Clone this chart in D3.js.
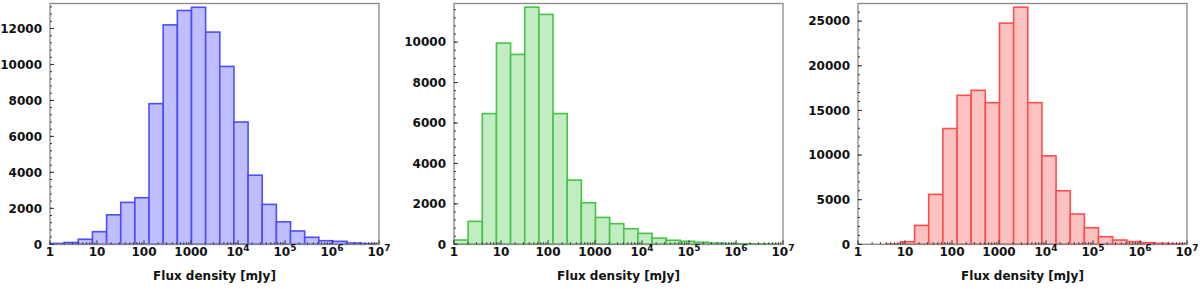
<!DOCTYPE html>
<html>
<head>
<meta charset="utf-8">
<script src="https://cdn.jsdelivr.net/npm/d3@7"></script>
<style>
  body { margin: 0; background: #fff; }
  text { font-family: "DejaVu Sans", sans-serif; font-weight: bold; fill: #111; }
</style>
</head>
<body>
<div id="chart"></div>
<script>
// histogram bins are powers of two: [2^k, 2^(k+1)]
var binExp = d3.range(0, 23);

var blueCounts = [50, 100, 280, 700, 1640, 2330, 2590, 7820, 12200, 13000, 13180, 11800,
  9890, 6800, 3840, 2220, 1250, 740, 390, 200, 165, 70, 40];
var greenCounts = [210, 1135, 6465, 9950, 9390, 11730, 11370, 6465, 3175, 2055, 1330, 1020,
  770, 540, 310, 200, 150, 100, 60, 40, 30, 25, 15];
var redCounts = [0, 0, 30, 290, 2120, 5590, 12970, 16690, 17250, 15870, 24780, 26570,
  15870, 9910, 6000, 3390, 1860, 850, 480, 300, 180, 110, 70];

var xTicks = [1, 10, 100, 1000, 1e4, 1e5, 1e6, 1e7];
var xTickLabels = ["1", "10", "100", "1000", "10|4", "10|5", "10|6", "10|7"];

var panels = [
  { counts: blueCounts, left: 50, yMax: 13390, yStep: 2000, yMinor: 400, fill: "#bfbfff", stroke: "#4d4dff" },
  { counts: greenCounts, left: 454, yMax: 11910, yStep: 2000, yMinor: 400, fill: "#c2ecc2", stroke: "#45c445" },
  { counts: redCounts, left: 858, yMax: 26980, yStep: 5000, yMinor: 1000, fill: "#fcc2c2", stroke: "#ff4d4d" }
];

var svgWidth = 1200;
var svgHeight = 289;
var plotW = 329;
var plotTop = 3.5;
var plotBottom = 244.3;

var svg = d3.select("#chart")
  .append("svg")
  .attr("width", svgWidth)
  .attr("height", svgHeight);

panels.forEach(function(p) {
  var g = svg.append("g");

  var x = d3.scaleLog()
    .domain([1, 1e7])
    .range([p.left, p.left + plotW]);

  var y = d3.scaleLinear()
    .domain([0, p.yMax])
    .range([plotBottom, plotTop]);

  // bars
  g.selectAll("rect.bar")
    .data(binExp.map(function(k, i) { return { k: k, v: p.counts[i] }; }).filter(d => d.v > 0))
    .enter()
    .append("rect")
    .attr("class", "bar")
    .attr("x", d => x(Math.pow(2, d.k)))
    .attr("width", d => x(Math.pow(2, d.k + 1)) - x(Math.pow(2, d.k)))
    .attr("y", d => y(d.v))
    .attr("height", d => plotBottom - y(d.v))
    .attr("fill", p.fill)
    .attr("stroke", p.stroke)
    .attr("stroke-width", 1.6);

  // frame
  g.append("rect")
    .attr("x", p.left)
    .attr("y", plotTop)
    .attr("width", plotW)
    .attr("height", plotBottom - plotTop)
    .attr("fill", "none")
    .attr("stroke", "#888")
    .attr("stroke-width", 1.3);

  // x minor ticks (inside)
  var minor = [];
  for (var e = 0; e < 7; e++) {
    for (var m = 2; m < 10; m++) minor.push(m * Math.pow(10, e));
  }
  g.selectAll("line.xminor")
    .data(minor)
    .enter()
    .append("line")
    .attr("x1", d => x(d)).attr("x2", d => x(d))
    .attr("y1", plotBottom).attr("y2", plotBottom - 2)
    .attr("stroke", "#333").attr("stroke-width", 1);

  g.selectAll("line.xmajor")
    .data(xTicks)
    .enter()
    .append("line")
    .attr("x1", d => x(d)).attr("x2", d => x(d))
    .attr("y1", plotBottom).attr("y2", plotBottom - 4)
    .attr("stroke", "#333").attr("stroke-width", 1);

  // x tick labels
  var xl = g.selectAll("text.xlab")
    .data(xTicks)
    .enter()
    .append("text")
    .attr("x", d => x(d))
    .attr("y", 256)
    .attr("text-anchor", "middle")
    .style("font-size", "12px");
  xl.each(function(d, i) {
    var parts = xTickLabels[i].split("|");
    var t = d3.select(this);
    t.append("tspan").text(parts[0]);
    if (parts[1]) {
      t.append("tspan").attr("dy", -5).style("font-size", "9px").text(parts[1]);
    }
  });

  g.append("text")
    .attr("x", p.left + plotW / 2)
    .attr("y", 280)
    .attr("text-anchor", "middle")
    .style("font-size", "12px")
    .text("Flux density [mJy]");

  // y ticks
  var yMajor = d3.range(0, p.yMax, p.yStep);
  var yMin = d3.range(0, p.yMax, p.yMinor);
  g.selectAll("line.yminor")
    .data(yMin)
    .enter()
    .append("line")
    .attr("x1", p.left).attr("x2", p.left + 2)
    .attr("y1", d => y(d)).attr("y2", d => y(d))
    .attr("stroke", "#333").attr("stroke-width", 1);
  g.selectAll("line.ymajor")
    .data(yMajor)
    .enter()
    .append("line")
    .attr("x1", p.left).attr("x2", p.left + 4)
    .attr("y1", d => y(d)).attr("y2", d => y(d))
    .attr("stroke", "#333").attr("stroke-width", 1);

  g.selectAll("text.ylab")
    .data(yMajor)
    .enter()
    .append("text")
    .attr("x", p.left - 8)
    .attr("y", d => y(d))
    .attr("dy", "0.35em")
    .attr("text-anchor", "end")
    .style("font-size", "12px")
    .text(d => d);
});
</script>
</body>
</html>
